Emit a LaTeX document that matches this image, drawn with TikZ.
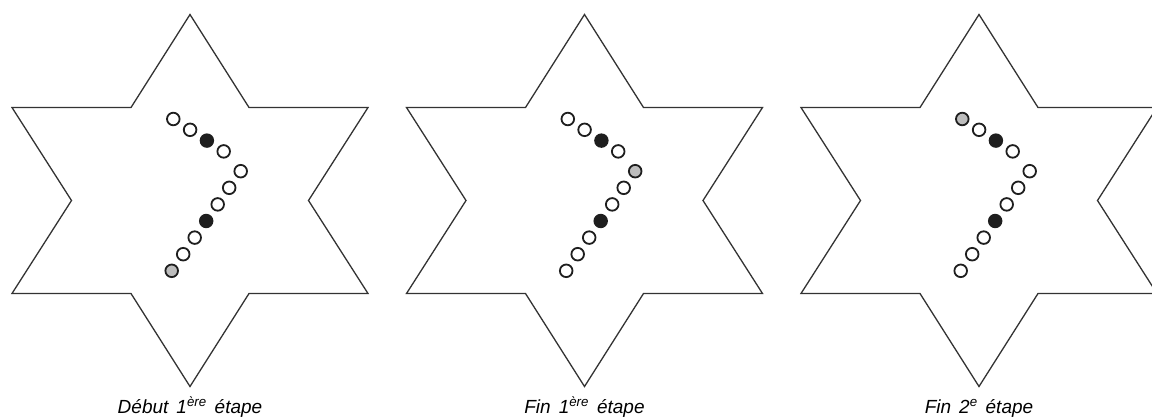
\documentclass[tikz,border=0pt]{standalone}
\usepackage{fontspec}
\setmainfont{Liberation Sans}
\definecolor{linec}{HTML}{333333}
\definecolor{dotc}{HTML}{1E1E1E}
\definecolor{greyc}{HTML}{BDBDBD}
\newcommand\mycapfont{\fontsize{19}{22}\selectfont\itshape\spaceskip=8pt\relax}
\begin{document}
\begin{tikzpicture}[x=1pt,y=-1pt,
  starline/.style={draw=linec,line width=1.3pt,line join=miter},
  dotbase/.style={circle,draw=dotc,line width=1.8pt,minimum size=12.6pt,inner sep=0pt},
  wd/.style={dotbase,fill=white},
  bk/.style={dotbase,fill=dotc},
  gy/.style={dotbase,fill=greyc},
  caption/.style={anchor=base,inner sep=0pt}]
\useasboundingbox (0,0) rectangle (1152,416);
\foreach \c in {190,584.5,979} {
  \draw[starline] (\c,14.5) -- (\c+59,107.5) -- (\c+178,107.5) -- (\c+118.5,200.5)
    -- (\c+178,293.5) -- (\c+59,293.5) -- (\c,386.5) -- (\c-59,293.5)
    -- (\c-178,293.5) -- (\c-118.5,200.5) -- (\c-178,107.5) -- (\c-59,107.5) -- cycle;
}
\foreach \c/\s/\styles in {190/a/{wd,wd,bk,wd,wd,wd,wd,bk,wd,wd,gy},
                           584.5/b/{wd,wd,bk,wd,gy,wd,wd,bk,wd,wd,wd},
                           979/c/{gy,wd,bk,wd,wd,wd,wd,bk,wd,wd,wd}} {
  \foreach \st [count=\k from 0] in \styles {
    \ifnum\k<4
      \pgfmathsetmacro\dx{-16.7+16.8*\k}\pgfmathsetmacro\dy{-81.5+10.8*\k}
    \else
      \pgfmathsetmacro\dx{50.7-11.5*(\k-4)}\pgfmathsetmacro\dy{-29.3+16.6*(\k-4)}
    \fi
    \node[\st] (\s\k) at (\c+\dx,200.5+\dy) {};
  }
}
\node[caption] (capa) at (190,413) {\mycapfont Début 1\textsuperscript{ère} étape};
\node[caption] (capb) at (584.5,413) {\mycapfont Fin 1\textsuperscript{ère} étape};
\node[caption] (capc) at (979,413) {\mycapfont Fin 2\textsuperscript{e} étape};
\end{tikzpicture}
\end{document}
